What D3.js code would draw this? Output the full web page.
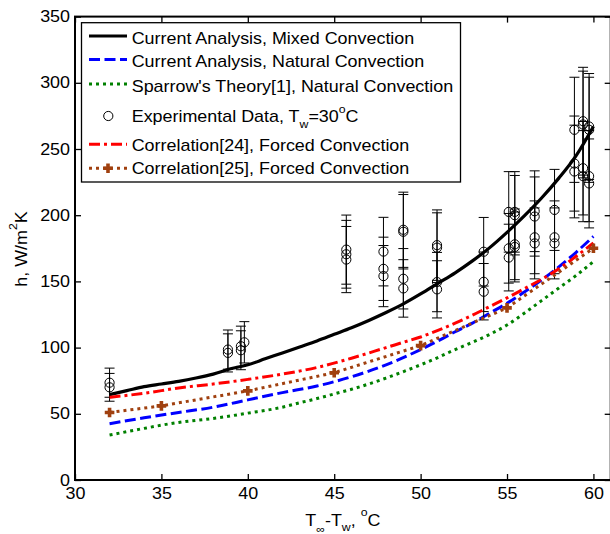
<!DOCTYPE html>
<html>
<head>
<meta charset="utf-8">
<script src="https://cdn.jsdelivr.net/npm/d3@7"></script>
<style>
  html, body { margin: 0; padding: 0; background: #fff; }
  svg { display: block; }
  text { font-family: "Liberation Sans", Arial, Helvetica, sans-serif; font-size: 16px; fill: #000; }
</style>
</head>
<body>
<svg id="chart" width="610" height="534"></svg>
<script>
// ---- data: heat transfer coefficient h (W/m^2K) vs temperature difference (°C) ----
const mixedX = [32,33,34,35,36,37,38,39,40,41,42,43,44,45,46,47,48,49,50,51,52,53,54,55,56,57,58,59,60];
const mixedH = [64.5,67.5,70.5,72.5,74.5,77,80,84,87,91.5,96,100.5,105,110,115,120.5,126.5,133,140.5,148.5,156.5,165.5,175.5,187,199.5,213,228,245,267];

const naturalX = [32,34,36,38,40,42,44,46,48,50,51,52,53,54,55,56,57,58,59,60];
const naturalH = [42.5,47,51,55,60.5,66,71,78,87,98.5,105,112,118.5,126,133.5,142,151,161,172,184];

const sparrowX = [32,33,34,36,38,40,42,43,44,45,46,48,50,51,52,53,54,55,56,57,58,59,60];
const sparrowH = [34,36.5,39,43.5,46.5,50.5,55,58.3,61.5,65,68.5,77,87,92.5,98.5,104,110,117,126,135.5,145,154.5,165];

const corr24X = [32,34,36,38,40,42,44,46,48,49,50,51,52,53,54,55,56,57,58,59,60];
const corr24H = [62.5,65.5,69.5,72.5,76,80,85,92,100,104,108,113,118.5,124.5,131,137.5,144.5,151.5,159.5,169,179];

const corr25X = [32,35,40,45,50,55,60];
const corr25H = [51,56,67.3,81,101.5,130,175];

// experimental points with symmetric error bars
const expX = [32,32,38.85,38.85,39.6,39.6,39.8,45.7,45.7,45.7,47.85,47.85,47.85,49,49,49,49,
              50.95,50.95,50.95,50.95,53.65,53.65,53.65,55.1,55.1,55.1,55.45,55.45,55.45,55.45,
              56.6,56.6,56.6,56.6,57.75,57.75,57.75,58.9,58.9,58.9,59.4,59.4,59.4,59.4,
              59.75,59.75,59.75,59.75];
const expH = [73.5,70,98.5,96,98,101,104,174,170.5,166.5,172.5,159.5,154,189,187.5,152,144.7,
              177.4,175.5,149.5,144,172.4,149.7,142.2,202.5,175,168,202.5,200,178,176,
              203,199,183.3,178.7,204,183.3,178.7,264.5,239,233,271,268.5,235.5,229.5,
              267,264.5,229.5,224];
const expErr = [11,10.5,14.8,14.4,14.7,15.2,15.6,26.1,25.6,25,25.9,23.9,23.1,28.4,28.1,22.8,21.7,
                26.6,26.3,22.4,21.6,25.9,22.5,21.3,30.4,26.3,25.2,30.4,30,26.7,26.4,
                30.5,29.9,27.5,26.8,30.6,27.5,26.8,39.7,35.9,35,40.7,40.3,35.3,34.4,
                40,39.7,34.4,33.6];

const xTicks = [30,35,40,45,50,55,60];
const yTicks = [0,50,100,150,200,250,300,350];

// ---- layout ----
const svg = d3.select("#chart");
const x = d3.scaleLinear().domain([30, 61]).range([75, 610.7]);
const y = d3.scaleLinear().domain([0, 350]).range([480, 16.6]);
const SX = 1.12; // horizontal glyph stretch of the typeface

function stretchText(sel) {
  sel.each(function () {
    const t = d3.select(this);
    const x0 = +t.attr("x") || 0;
    const base = t.attr("transform") || "";
    t.attr("transform", `${base} translate(${x0},0) scale(${SX},1) translate(${-x0},0)`);
  });
}

const smooth = d3.line().x((d) => x(d[0])).y((d) => y(d[1])).curve(d3.curveMonotoneX);
const straight = d3.line().x((d) => x(d[0])).y((d) => y(d[1]));
const zip = (xs, ys) => xs.map((v, i) => [v, ys[i]]);

const styles = {
  mixed:   { color: "#000000", width: 3.2, dash: null },
  natural: { color: "#0000ff", width: 3, dash: "11,4.5" },
  sparrow: { color: "#008000", width: 3, dash: "3,4" },
  corr24:  { color: "#ff0000", width: 3, dash: "11,4,3,4" },
  corr25:  { color: "#a0400f", width: 3, dash: "3,4" }
};

const plot = svg.append("g");

function drawCurve(data, st, gen) {
  plot.append("path")
    .datum(data)
    .attr("d", gen)
    .attr("fill", "none")
    .attr("stroke", st.color)
    .attr("stroke-width", st.width)
    .attr("stroke-dasharray", st.dash)
    .attr("stroke-linejoin", "round");
}

drawCurve(zip(mixedX, mixedH), styles.mixed, smooth);
drawCurve(zip(naturalX, naturalH), styles.natural, smooth);
drawCurve(zip(sparrowX, sparrowH), styles.sparrow, smooth);

// experimental data with error bars
const exp = expX.map((v, i) => ({ x: v, h: expH[i], e: expErr[i] }));
const eg = plot.append("g").attr("stroke", "#000").attr("stroke-width", 1).attr("fill", "none");
exp.forEach((d) => {
  const cx = x(d.x), lo = y(d.h - d.e), hi = y(d.h + d.e);
  eg.append("line").attr("x1", cx).attr("x2", cx).attr("y1", lo).attr("y2", hi);
  eg.append("line").attr("x1", cx - 5).attr("x2", cx + 5).attr("y1", lo).attr("y2", lo);
  eg.append("line").attr("x1", cx - 5).attr("x2", cx + 5).attr("y1", hi).attr("y2", hi);
  eg.append("circle").attr("cx", cx).attr("cy", y(d.h)).attr("r", 4.6);
});

drawCurve(zip(corr24X, corr24H), styles.corr24, smooth);
drawCurve(zip(corr25X, corr25H), styles.corr25, straight);

const crossPath = "M-4.8,0H4.8M0,-4.8V4.8";
plot.append("g").selectAll("path")
  .data(zip(corr25X, corr25H))
  .join("path")
  .attr("d", crossPath)
  .attr("transform", (d) => `translate(${x(d[0])},${y(d[1])})`)
  .attr("stroke", styles.corr25.color)
  .attr("stroke-width", 3.6)
  .attr("fill", "none");

// ---- axes and box ----
function styleAxis(g) {
  g.attr("font-size", null).attr("font-family", null);
  g.select(".domain").remove();
  g.selectAll(".tick line").attr("stroke", "#000").attr("stroke-width", 1.3);
  g.selectAll("text").attr("fill", "#000").style("font-size", "16px");
}

const gx = svg.append("g").attr("transform", `translate(0,${y(0)})`)
  .call(d3.axisBottom(x).tickValues(xTicks).tickFormat(d3.format("d"))
    .tickSizeInner(-6).tickSizeOuter(0).tickPadding(8));
styleAxis(gx); stretchText(gx.selectAll("text"));

const gxt = svg.append("g").attr("transform", `translate(0,${y(350)})`)
  .call(d3.axisTop(x).tickValues(xTicks).tickFormat("").tickSizeInner(-6).tickSizeOuter(0));
styleAxis(gxt);

const gy = svg.append("g").attr("transform", `translate(${x(30)},0)`)
  .call(d3.axisLeft(y).tickValues(yTicks).tickFormat(d3.format("d"))
    .tickSizeInner(-6).tickSizeOuter(0).tickPadding(5));
styleAxis(gy); stretchText(gy.selectAll("text"));

const gyr = svg.append("g").attr("transform", `translate(${x(61)},0)`)
  .call(d3.axisRight(y).tickValues(yTicks).tickFormat("").tickSizeInner(-6).tickSizeOuter(0));
styleAxis(gyr);

svg.append("rect")
  .attr("x", x(30)).attr("y", y(350))
  .attr("width", x(61) - x(30)).attr("height", y(0) - y(350))
  .attr("fill", "none").attr("stroke", "#000").attr("stroke-width", 2);

// axis titles
const xl = svg.append("text").attr("x", (x(30) + x(61)) / 2).attr("y", 526).attr("text-anchor", "middle");
xl.append("tspan").text("T");
xl.append("tspan").attr("dy", 7).style("font-size", "11px").text("\u221E");
xl.append("tspan").attr("dy", -7).text("-T");
xl.append("tspan").attr("dy", 5.5).style("font-size", "11px").text("w");
xl.append("tspan").attr("dy", -5.5).text(", ");
xl.append("tspan").attr("dy", -9.5).style("font-size", "11px").text("o");
xl.append("tspan").attr("dy", 9.5).text("C");
stretchText(xl);

const yl = svg.append("text").attr("x", 0).attr("y", 0)
  .attr("transform", "translate(26.7,249) rotate(-90)").attr("text-anchor", "middle");
yl.append("tspan").text("h, W/m");
yl.append("tspan").attr("dy", -9.5).style("font-size", "11px").text("2");
yl.append("tspan").attr("dy", 9.5).text("K");
stretchText(yl);

// ---- legend ----
const legendLabels = [
  "Current Analysis, Mixed Convection",
  "Current Analysis, Natural Convection",
  "Sparrow's Theory[1], Natural Convection",
  "Experimental Data, T",
  "Correlation[24], Forced Convection",
  "Correlation[25], Forced Convection"
];
const legendKeys = ["mixed", "natural", "sparrow", "exp", "corr24", "corr25"];
const rowBase = [44, 67.4, 91.7, 121.7, 150.7, 174];
const rowMark = [36, 59.5, 84, 116, 144.3, 168.3];

const lg = svg.append("g");
lg.append("rect").attr("x", 81.5).attr("y", 22.7).attr("width", 379).attr("height", 159.3)
  .attr("fill", "#fff").attr("stroke", "#000").attr("stroke-width", 1.3);

legendKeys.forEach((k, i) => {
  const my = rowMark[i];
  if (k === "exp") {
    lg.append("circle").attr("cx", 108.3).attr("cy", my).attr("r", 4.6)
      .attr("fill", "none").attr("stroke", "#000").attr("stroke-width", 1);
  } else {
    const st = styles[k];
    lg.append("line").attr("x1", 89).attr("x2", 127).attr("y1", my).attr("y2", my)
      .attr("stroke", st.color).attr("stroke-width", st.width).attr("stroke-dasharray", st.dash);
    if (k === "corr25") {
      lg.append("path").attr("d", crossPath).attr("transform", `translate(108,${my})`)
        .attr("stroke", st.color).attr("stroke-width", 3.6).attr("fill", "none");
    }
  }
  const t = lg.append("text").attr("x", 131.7).attr("y", rowBase[i]);
  t.append("tspan").text(legendLabels[i]);
  if (k === "exp") {
    t.append("tspan").attr("dy", 6.6).style("font-size", "11px").text("w");
    t.append("tspan").attr("dy", -6.6).text("=30");
    t.append("tspan").attr("dy", -8.7).style("font-size", "11px").text("o");
    t.append("tspan").attr("dy", 8.7).text("C");
  }
  stretchText(t);
});
</script>
</body>
</html>
